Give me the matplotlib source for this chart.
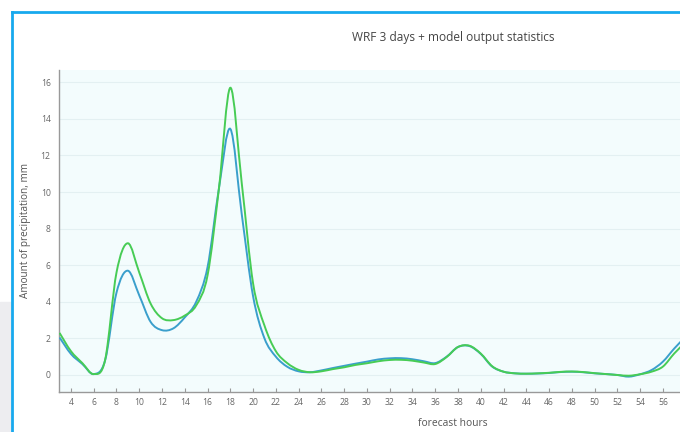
import numpy as np
import matplotlib.pyplot as plt
from matplotlib.path import Path
from matplotlib.patches import PathPatch, Rectangle
from matplotlib.lines import Line2D

plt.rcParams['font.family'] = ['Open Sans', 'DejaVu Sans']

hours = list(range(3, 59))
wrf = [2.05, 1.15, 0.6, 0.05, 0.8, 4.5, 5.7, 4.35, 2.9, 2.45,
       2.55, 3.15, 4.0, 5.9, 10.2, 13.45, 8.8, 4.3, 2.0, 1.0,
       0.45, 0.2, 0.15, 0.25, 0.38, 0.5, 0.62, 0.73, 0.85, 0.91,
       0.92, 0.86, 0.75, 0.65, 1.0, 1.53, 1.58, 1.15, 0.46, 0.18,
       0.09, 0.07, 0.08, 0.11, 0.16, 0.18, 0.15, 0.09, 0.05, 0.0,
       -0.09, 0.04, 0.27, 0.73, 1.45, 2.1]
wrf_mos = [2.3, 1.3, 0.65, 0.05, 0.82, 5.6, 7.2, 5.6, 3.9, 3.1,
           3.0, 3.25, 3.8, 5.45, 10.2, 15.7, 10.5, 5.0, 2.7, 1.3,
           0.65, 0.28, 0.15, 0.2, 0.32, 0.42, 0.55, 0.64, 0.75, 0.82,
           0.83, 0.78, 0.68, 0.6, 0.98, 1.53, 1.6, 1.17, 0.48, 0.18,
           0.09, 0.07, 0.09, 0.12, 0.17, 0.19, 0.16, 0.1, 0.05, 0.0,
           -0.04, 0.04, 0.18, 0.46, 1.18, 1.8]
xticks = list(range(4, 58, 2))
yticks = list(range(0, 17, 2))


def spline_path(x, y, smoothing=1.0):
    # smooth line shape through the points (cardinal spline as bezier)
    p = np.column_stack([x, y]).astype(float)
    p = np.vstack([p[0], p, p[-1]])
    k = smoothing / 6.
    verts = [p[1]]
    codes = [Path.MOVETO]
    for i in range(1, len(p) - 2):
        c1 = p[i] + (p[i + 1] - p[i - 1]) * k
        c2 = p[i + 1] - (p[i + 2] - p[i]) * k
        verts += [c1, c2, p[i + 1]]
        codes += [Path.CURVE4] * 3
    return Path(verts, codes)


fig = plt.figure(figsize=(6.8, 4.32), dpi=100)
ax = fig.add_axes([59 / 680, 1 - 392 / 432, 621 / 680, 322 / 432])
ax.set_facecolor('#f3fcfd')

for yv, col in [(wrf, '#3a9fcc'), (wrf_mos, '#47cc55')]:
    ax.add_patch(PathPatch(spline_path(hours, yv), fill=False,
                           edgecolor=col, lw=1.4, zorder=3))

ax.set_xlim(2.95, 57.5)
ax.set_ylim(-0.93, 16.67)
ax.set_xticks(xticks)
ax.set_yticks(yticks)
ax.tick_params(axis='x', direction='in', length=3, color='#999999',
               labelsize=6.2, labelcolor='#666666', pad=4)
ax.tick_params(axis='y', length=0, labelsize=6.2, labelcolor='#666666', pad=6)
ax.grid(axis='y', color='#e3f0f2', lw=0.8)
ax.set_axisbelow(True)
for s in ['top', 'right']:
    ax.spines[s].set_visible(False)
for s in ['left', 'bottom']:
    ax.spines[s].set_color('#999999')
    ax.spines[s].set_linewidth(1)

ax.set_ylabel('Amount of precipitation, mm', fontsize=7.2, color='#555555', labelpad=7)
fig.text(453 / 680, 1 - 37 / 432, 'WRF 3 days + model output statistics',
         ha='center', va='center', fontsize=8.6, color='#444444')
fig.text(453 / 680, 1 - 424 / 432, 'forecast hours',
         ha='center', va='center', fontsize=7.4, color='#555555')

# card frame of the screenshot
fig.patches.append(Rectangle((0, 0), 11 / 680, 130 / 432, transform=fig.transFigure,
                             color='#ededf0', zorder=0))
fig.lines.append(Line2D([12 / 680, 1], [1 - 12 / 432, 1 - 12 / 432],
                        transform=fig.transFigure, color='#17a9ee', lw=2))
fig.lines.append(Line2D([12 / 680, 12 / 680], [0, 1 - 12 / 432],
                        transform=fig.transFigure, color='#17a9ee', lw=2))

fig.savefig('out.png', dpi=100)
